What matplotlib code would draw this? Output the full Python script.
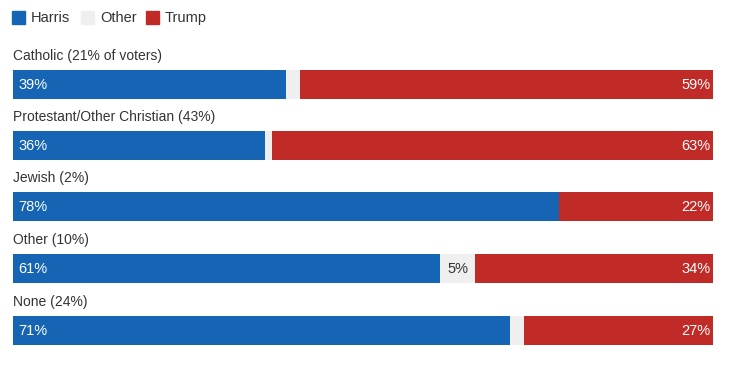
import matplotlib.pyplot as plt
from matplotlib.patches import Rectangle

# data
groups = ["Catholic (21% of voters)", "Protestant/Other Christian (43%)", "Jewish (2%)",
          "Other (10%)", "None (24%)"]
harris = [39, 36, 78, 61, 71]
other = [2, 1, 0, 5, 2]
trump = [59, 63, 22, 34, 27]
series_names = ["Harris", "Other", "Trump"]

colors = {"Harris": "#1565b4", "Other": "#efefef", "Trump": "#c02b27"}
txt = "#333333"
plt.rcParams['font.family'] = ['Liberation Sans', 'DejaVu Sans']

W, H = 733, 368
fig = plt.figure(figsize=(W / 100, H / 100), dpi=100)
ax = fig.add_axes([0, 0, 1, 1])
# map 0% -> x=13px, 100% -> x=713px; y in pixels from top
ax.set_xlim(-13 / 7, (W - 13) / 7)
ax.set_ylim(H, 0)
ax.axis("off")

bar_top = [70, 131, 192, 254, 316]
bar_h = 29
centers = [t + bar_h / 2 for t in bar_top]

ax.barh(centers, harris, height=bar_h, color=colors["Harris"], linewidth=0)
ax.barh(centers, other, left=harris, height=bar_h, color=colors["Other"], linewidth=0)
left_t = [h + o for h, o in zip(harris, other)]
ax.barh(centers, trump, left=left_t, height=bar_h, color=colors["Trump"], linewidth=0)

for i, g in enumerate(groups):
    ax.text(0, bar_top[i] - 7, g, fontsize=10, color=txt, va="bottom", ha="left")
    ax.text(0.8, centers[i] + 0.5, f"{harris[i]}%", fontsize=10.5, color="white", va="center", ha="left")
    ax.text(99.6, centers[i] + 0.5, f"{trump[i]}%", fontsize=10.5, color="white", va="center", ha="right")
    if other[i] >= 4:
        ax.text(harris[i] + other[i] / 2, centers[i] + 0.5, f"{other[i]}%", fontsize=10.5,
                color=txt, va="center", ha="center")

# legend
leg_x = [12, 81, 146]
for name, lx in zip(series_names, leg_x):
    fig.patches.append(Rectangle((lx / W, 1 - 24 / H), 13 / W, 13 / H,
                                 transform=fig.transFigure, color=colors[name]))
    fig.text((lx + 19) / W, 1 - 18 / H, name, fontsize=10.5, color=txt, va="center", ha="left")

fig.savefig("out.png", dpi=100)
